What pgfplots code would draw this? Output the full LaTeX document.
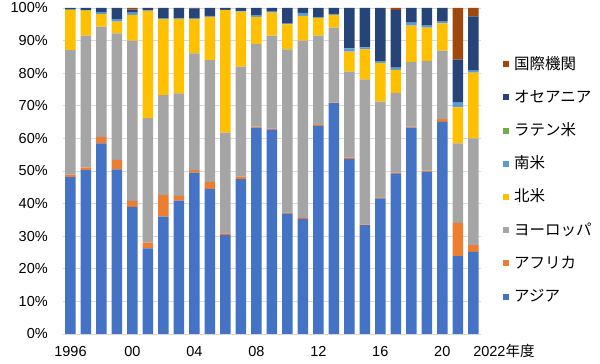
\documentclass[border=0pt]{standalone}
\usepackage{pgfplots}
\usepackage{pgfplotstable}
\pgfplotsset{compat=1.18}
\usepackage{fontspec}
\setmainfont{Liberation Sans}
\newfontfamily\jp{Noto Sans CJK JP}
\definecolor{cAsia}{HTML}{4472C4}
\definecolor{cAfrica}{HTML}{ED7D31}
\definecolor{cEurope}{HTML}{A5A5A5}
\definecolor{cNA}{HTML}{FFC000}
\definecolor{cSA}{HTML}{5B9BD5}
\definecolor{cLatin}{HTML}{70AD47}
\definecolor{cOce}{HTML}{264478}
\definecolor{cIntl}{HTML}{9E480E}
\definecolor{cGrid}{HTML}{D9D9D9}
\pgfplotstableread{
x asia africa europe na sa latin oce intl
0 48.1 0.8 38.2 12.3 0 0.1 0.5 0
1 50.3 0.7 40.5 7.7 0 0.1 0.7 0
2 58.5 2.0 33.8 3.8 0.6 0 1.3 0
3 50.5 2.9 38.8 3.6 0.8 0 3.4 0
4 39.0 1.8 49.2 7.9 0.7 0 0.9 0.5
5 26.3 1.7 38.2 32.9 0.2 0 0.7 0
6 36.0 6.6 30.7 23.3 0.3 0 3.1 0
7 40.9 1.5 31.4 22.8 0.2 0 3.2 0
8 49.5 0.8 35.8 10.5 0.3 0 3.0 0.1
9 44.5 2.2 37.3 13.3 0.3 0 2.4 0
10 30.4 0.5 30.9 37.6 0 0 0.6 0
11 47.5 0.8 33.7 16.9 0.2 0 0.9 0
12 63.3 0.3 25.3 8.4 0.5 0 2.2 0
13 62.8 0.3 28.4 7.1 0.3 0 1.1 0
14 37.0 0.3 50.0 7.7 0.2 0 4.8 0
15 35.3 0.3 54.4 7.6 0.9 0 1.5 0
16 63.8 0.3 27.4 5.5 0.2 0 2.8 0
17 70.8 0.2 23.0 3.9 0.3 0 1.8 0
18 53.7 0.4 26.4 6.1 1.0 0 12.4 0
19 33.4 0.2 44.5 9.2 0.6 0 12.1 0
20 41.6 0.3 29.4 11.9 0.5 0 16.3 0
21 49.3 0.3 24.4 7.0 0.7 0 17.7 0.6
22 63.3 0.3 19.9 11.1 0.9 0 4.5 0
23 49.8 0.3 33.7 10.2 0.6 0 5.4 0
24 65.1 0.8 21.0 8.4 0.5 0 4.2 0
25 23.9 10.2 24.4 11.0 1.5 0 13.2 15.8
26 25.2 2.1 32.7 20.2 0.6 0 16.6 2.6
}\data
\begin{document}
\begin{tikzpicture}
\useasboundingbox (-62.75pt,-30pt) rectangle (537.25pt,334pt);
\begin{axis}[
  scale only axis, width=418.25pt, height=326pt,
  ybar stacked, bar width=10.5pt,
  xmin=-0.5, xmax=26.5, ymin=0, ymax=100,
  xtick={0,4,8,12,16,20,24,26},
  xticklabels={1996,00,04,08,12,16,20,\makebox[0pt][l]{2022{\jp 年度}}},
  ytick={0,10,...,100},
  yticklabel={\pgfmathparse{int(\tick)}\pgfmathresult\%},
  ymajorgrids, grid style={draw=cGrid, line width=0.8pt},
  axis x line*=bottom, axis y line*=left,
  x axis line style={draw=cGrid, line width=0.8pt, -},
  y axis line style={draw=none},
  major tick length=0pt, tick style={draw=none},
  ticklabel style={font=\fontsize{14.5}{14.5}\selectfont},
  yticklabel style={anchor=east, xshift=-11.5pt},
  xticklabel style={anchor=north, text height=10pt, text depth=0pt, yshift=-9pt},
  every axis plot/.append style={draw=none},
  reverse legend,
  legend image code/.code={\fill[#1] (0pt,-2.5pt) rectangle (6pt,3.5pt);},
  legend style={at={(1.0454,0.853)}, anchor=north west, draw=none, fill=none,
    font=\jp\fontsize{15.5}{15.5}\selectfont, row sep=20.2pt, column sep=5pt,
    nodes={inner sep=0pt, text height=11pt, text depth=2pt}},
  legend cell align=left,
]
\addplot[fill=cAsia] table[x=x,y=asia]{\data};
\addplot[fill=cAfrica] table[x=x,y=africa]{\data};
\addplot[fill=cEurope] table[x=x,y=europe]{\data};
\addplot[fill=cNA] table[x=x,y=na]{\data};
\addplot[fill=cSA] table[x=x,y=sa]{\data};
\addplot[fill=cLatin] table[x=x,y=latin]{\data};
\addplot[fill=cOce] table[x=x,y=oce]{\data};
\addplot[fill=cIntl] table[x=x,y=intl]{\data};
\legend{アジア,アフリカ,ヨーロッパ,北米,南米,ラテン米,オセアニア,国際機関}
\end{axis}
\end{tikzpicture}
\end{document}
